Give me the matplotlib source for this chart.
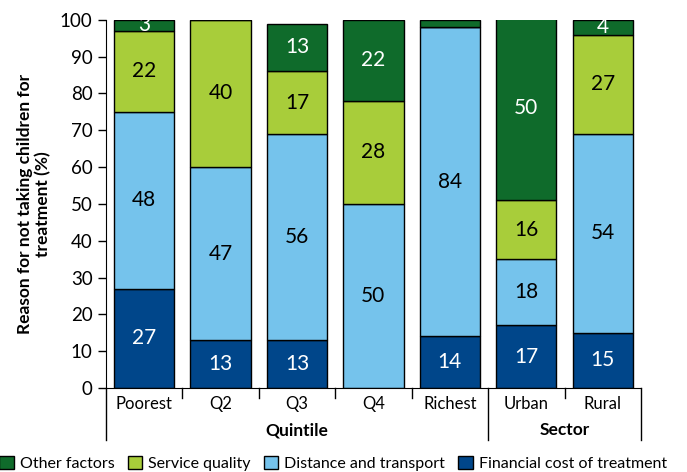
import numpy as np
import matplotlib
matplotlib.use('Agg')
import matplotlib.pyplot as plt
from matplotlib.patches import Patch

plt.rcParams['font.family'] = ['Lato', 'DejaVu Sans']

# data (percent)
categories = ['Poorest', 'Q2', 'Q3', 'Q4', 'Richest', 'Urban', 'Rural']
financial = [27, 13, 13, 0, 14, 17, 15]
distance = [48, 47, 56, 50, 84, 18, 54]
service = [22, 40, 17, 28, 0, 16, 27]
other = [3, 0, 13, 22, 2, 50, 4]

groups = ['Quintile', 'Sector']
group_sizes = [5, 2]

series = [
    ('Financial cost of treatment', financial, '#00468a', 'white'),
    ('Distance and transport', distance, '#75c3ec', 'black'),
    ('Service quality', service, '#a8cd3a', 'black'),
    ('Other factors', other, '#0f6b2b', 'white'),
]

fig = plt.figure(figsize=(6.87, 4.72), dpi=100)
ax = fig.add_axes([0.154, 0.178, 0.779, 0.780])

x = np.arange(len(categories))
bottom = np.zeros(len(categories))
for name, vals, col, tcol in series:
    vals = np.array(vals, dtype=float)
    ax.bar(x, vals, 0.79, bottom=bottom, color=col, edgecolor='black',
           linewidth=1.0, label=name)
    for xi, b, v in zip(x, bottom, vals):
        if v >= 3:
            ax.text(xi, b + v / 2, f'{int(v)}', ha='center', va='center',
                    color=tcol, fontsize=15)
    bottom += vals

ax.set_xlim(-0.5, len(categories) - 0.5)
ax.set_ylim(0, 100)
ax.set_yticks(range(0, 101, 10))
ax.tick_params(axis='y', labelsize=13.5, length=6, width=1)
ax.set_xticks(x)
ax.set_xticklabels(categories, fontsize=12)
ax.tick_params(axis='x', length=0, pad=6)
for s in ['top', 'right']:
    ax.spines[s].set_visible(False)
ax.set_ylabel('Reason for not taking children for\ntreatment (%)',
              fontsize=12.5, fontweight='bold', labelpad=6)

# category axis decorations
tr = ax.get_xaxis_transform()
edges = np.arange(len(categories) + 1) - 0.5
group_edges = np.concatenate([[0], np.cumsum(group_sizes)]) - 0.5
for e in edges:
    if e in group_edges:
        ax.plot([e, e], [0, -0.142], transform=tr, color='black', lw=1, clip_on=False)
    else:
        ax.plot([e, e], [0, -0.028], transform=tr, color='black', lw=1, clip_on=False)
for g, lo, hi in zip(groups, group_edges[:-1], group_edges[1:]):
    ax.text((lo + hi) / 2, -0.115, g, transform=tr, ha='center', va='center',
            fontsize=12.5, fontweight='bold')

handles = [Patch(facecolor=col, edgecolor='black', label=name)
           for name, vals, col, tcol in series[::-1]]
fig.legend(handles=handles, loc='lower center', bbox_to_anchor=(0.485, -0.012),
           ncol=4, frameon=False, fontsize=11.5, handlelength=0.9, handleheight=0.9,
           handletextpad=0.4, columnspacing=0.8, borderaxespad=0)

fig.savefig('out.png', dpi=100)
